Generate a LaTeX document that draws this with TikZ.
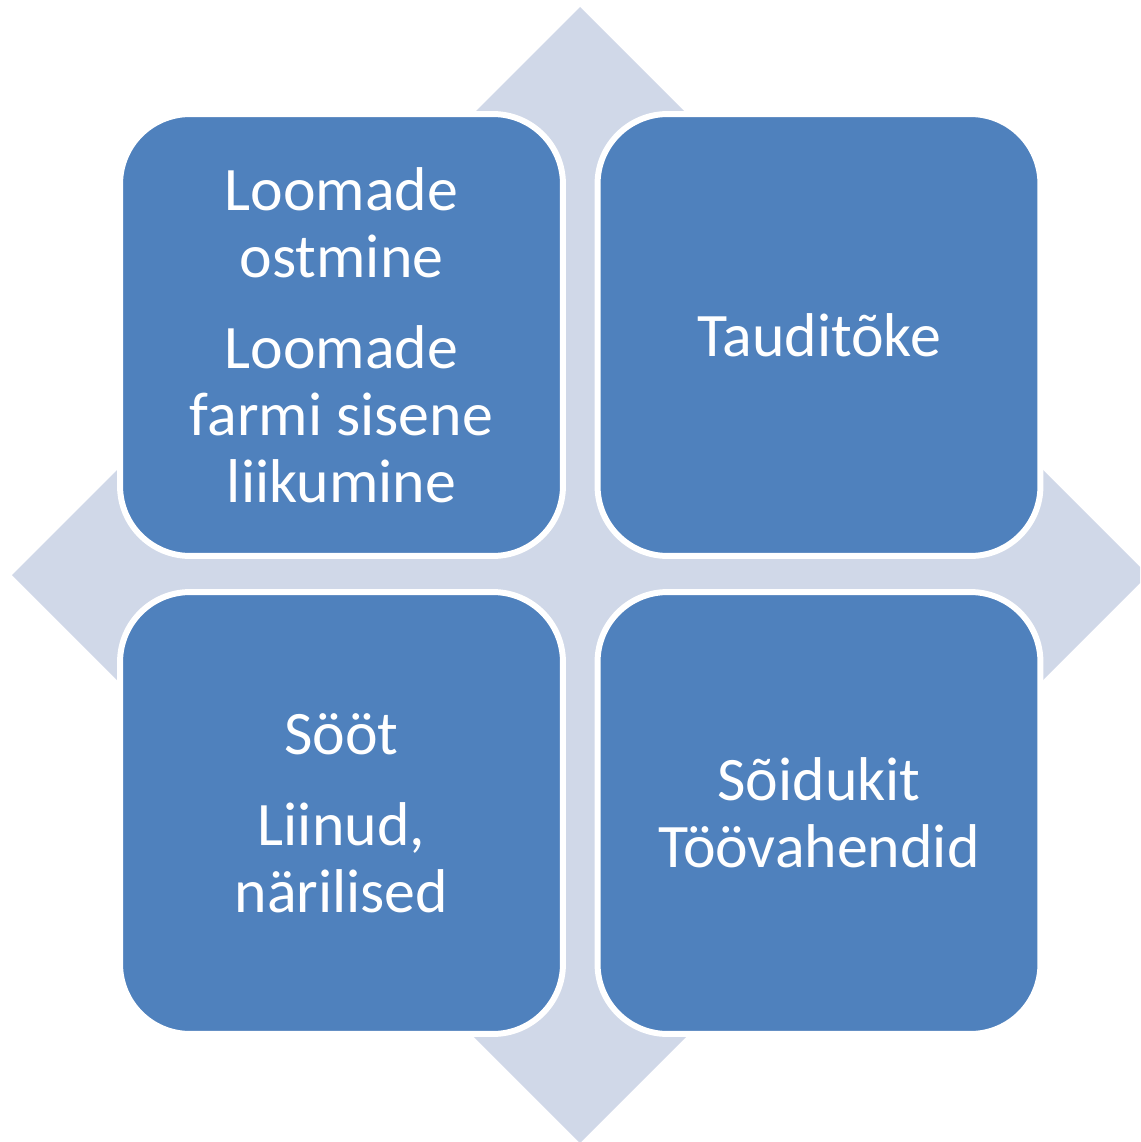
\documentclass[tikz,border=0pt]{standalone}
\usepackage{fontspec}
\setmainfont{Carlito}
\usepackage{tikz}
\definecolor{boxblue}{RGB}{79,129,189}
\definecolor{crossgray}{RGB}{208,216,232}

\begin{document}
\begin{tikzpicture}[x=0.02cm,y=-0.02cm]
\tikzstyle{every node}=[font=\fontsize{35.2}{38.1}\selectfont, text=white, align=center]
\tikzstyle{tile}=[rectangle, rounded corners=1.4cm, draw=white, line width=3.4pt, fill=boxblue, minimum width=8.86cm, minimum height=8.84cm, inner sep=0pt]
\useasboundingbox (0,0) rectangle (1140,1142);
\clip (0,0) rectangle (1140,1142);
\fill[crossgray] (580,7) -- (1148,575) -- (580,1143) -- (12,575) -- cycle;
\node[tile] (loomad) at (341.5,335) {Loomade\\ostmine\\[13.7pt]Loomade\\farmi sisene\\liikumine};
\node[tile] (taud) at (819,335) {Tauditõke};
\node[tile] (sööt) at (341.5,813) {Sööt\\[13.7pt]Liinud,\\närilised};
\node[tile] (sõidukit) at (819,813) {Sõidukit\\Töövahendid};
%\node[tile] (extra) at (580,575) {};
\end{tikzpicture}
\end{document}
